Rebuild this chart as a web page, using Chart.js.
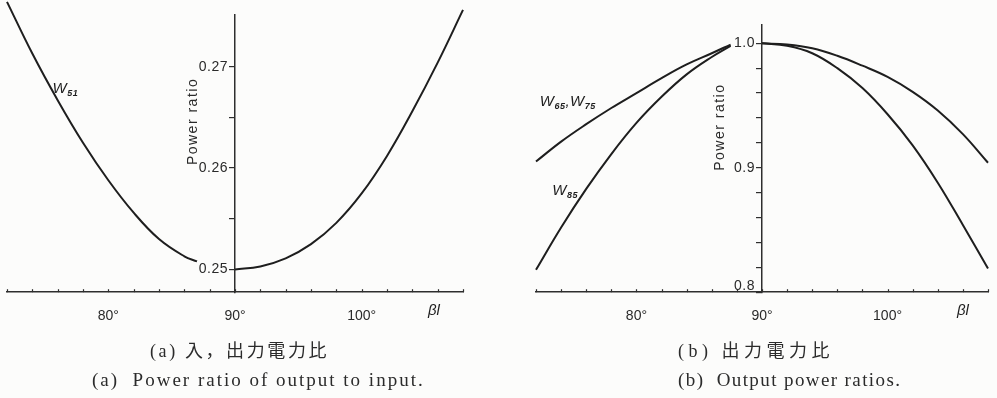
<!DOCTYPE html>
<html>
<head>
<meta charset="utf-8">
<script src="https://cdn.jsdelivr.net/npm/chart.js@4"></script>
<style>
  body { margin: 0; width: 997px; height: 398px; background: #fcfcfb; position: relative; overflow: hidden; }
  canvas { position: absolute; top: 0; }
  #chartA { left: -9px; }
  #chartB { left: 497px; }
  .cap { position: absolute; white-space: nowrap; color: #2b2b2b; font-family: "Liberation Serif", "Noto Sans CJK JP", serif; font-size: 19px; letter-spacing: 2px; }
</style>
</head>
<body>
<canvas id="chartA" width="506" height="341"></canvas>
<canvas id="chartB" width="507" height="341"></canvas>
<div class="cap" style="left:150px; top:336px; font-size:18px; letter-spacing:2.6px">(a)&nbsp;入，出力電力比</div>
<div class="cap" style="left:92px; top:369px">(a)&nbsp; Power ratio of output to input.</div>
<div class="cap" style="left:678px; top:336px; font-size:18px; letter-spacing:4.5px">(b)&nbsp;出力電力比</div>
<div class="cap" style="left:678px; top:369px; letter-spacing:1.4px">(b)&nbsp; Output power ratios.</div>
<script>
// βl in degrees, null marks the break left for the axis label
const betaA = [72, 74, 76, 78, 80, 82, 84, 86, 87, 88.5, 90, 92, 94, 96, 98, 100, 102, 104, 106, 108];
const w51 = [0.2764, 0.2713, 0.2667, 0.2625, 0.2588, 0.2556, 0.2530, 0.2513, 0.2508, null,
             0.2500, 0.2503, 0.2511, 0.2525, 0.2546, 0.2575, 0.2612, 0.2656, 0.2704, 0.2756];

const betaB = [72, 74, 76, 78, 80, 82, 84, 86, 87.5, 89, 90, 92, 94, 96, 98, 100, 102, 104, 106, 108];
const w65w75 = [0.905, 0.921, 0.935, 0.948, 0.960, 0.972, 0.983, 0.992, 0.999, null,
                1.000, 0.999, 0.996, 0.990, 0.982, 0.973, 0.961, 0.946, 0.927, 0.904];
const w85 = [0.818, 0.852, 0.883, 0.911, 0.936, 0.957, 0.975, 0.989, 0.998, null,
             1.000, 0.998, 0.992, 0.980, 0.964, 0.943, 0.918, 0.888, 0.854, 0.819];

const xLabels = {80: '80°', 90: '90°', 100: '100°'};
const yTicksA = [0.25, 0.255, 0.26, 0.265, 0.27];
const yLabelsA = ['0.25', '', '0.26', '', '0.27'];
const yTicksB = [0.8, 0.82, 0.84, 0.86, 0.88, 0.9, 0.92, 0.94, 0.96, 0.98, 1.0];
const yLabelsB = ['0.8', '', '', '', '', '0.9', '', '', '', '', '1.0'];

const INK = '#1e1e1e';
const AXIS = '#2e2e2e';
const SANS = '"Liberation Sans", Arial, sans-serif';

function points(xs, ys) {
  return xs.map((b, i) => ({x: b, y: ys[i]}));
}

function curve(xs, ys) {
  return {
    data: points(xs, ys),
    borderColor: INK,
    borderWidth: 2,
    pointRadius: 0,
    tension: 0.4,
    spanGaps: false,
    clip: false
  };
}

// W with subscript digits, e.g. "W65,W75"
function drawName(ctx, text, x, y) {
  let cx = x;
  for (const ch of text) {
    if (/[0-9]/.test(ch)) {
      ctx.font = 'italic bold 9px ' + SANS;
      ctx.fillText(ch, cx, y + 3);
    } else {
      ctx.font = 'italic 15px ' + SANS;
      ctx.fillText(ch, cx, y);
    }
    cx += ctx.measureText(ch).width + 0.5;
  }
}

function decor(opts) {
  return {
    id: 'decor',
    afterDraw(chart) {
      const {ctx, scales: {x, y}} = chart;
      const axisX = x.getPixelForValue(90);
      ctx.save();
      // short ticks standing up from the βl axis
      ctx.strokeStyle = AXIS;
      ctx.lineWidth = 1.2;
      x.ticks.forEach(t => {
        const px = Math.round(x.getPixelForValue(t.value)) + 0.5;
        ctx.beginPath();
        ctx.moveTo(px, x.top);
        ctx.lineTo(px, x.top - 3);
        ctx.stroke();
      });

      // ratio labels beside the vertical axis, kept clear of the βl axis
      ctx.fillStyle = '#2a2a2a';
      ctx.font = '14px ' + SANS;
      ctx.textAlign = 'right';
      ctx.textBaseline = 'middle';
      ctx.letterSpacing = '0.5px';
      opts.yTicks.forEach((v, i) => {
        if (!opts.yLabels[i]) return;
        const py = Math.min(y.getPixelForValue(v), x.top - 6);
        ctx.fillText(opts.yLabels[i], axisX - 7, py);
      });
      ctx.letterSpacing = '0px';

      ctx.fillStyle = INK;
      ctx.textBaseline = 'alphabetic';
      ctx.textAlign = 'left';
      opts.names.forEach(n => drawName(ctx, n.text, x.getPixelForValue(n.x), y.getPixelForValue(n.y)));

      ctx.textAlign = 'center';
      ctx.textBaseline = 'middle';
      ctx.font = 'italic 15px ' + SANS;
      ctx.fillText('βl', x.getPixelForValue(opts.betaAt), x.top + 19);

      // axis title, set to the left of the vertical axis
      ctx.translate(axisX - 42, y.getPixelForValue(opts.titleAt));
      ctx.rotate(-Math.PI / 2);
      ctx.letterSpacing = '1.5px';
      ctx.font = '14px ' + SANS;
      ctx.fillStyle = '#2a2a2a';
      ctx.fillText('Power ratio', 0, 0);
      ctx.restore();
    }
  };
}

function makeChart(id, datasets, yMin, yMax, padding, extra) {
  return new Chart(document.getElementById(id), {
    type: 'line',
    data: {datasets},
    options: {
      responsive: false,
      animation: false,
      layout: {padding},
      plugins: {legend: {display: false}, tooltip: {enabled: false}},
      scales: {
        x: {
          type: 'linear',
          min: 72,
          max: 108,
          grid: {display: false, drawTicks: false},
          border: {color: AXIS, width: 1.5},
          ticks: {
            stepSize: 2,
            autoSkip: false,
            maxRotation: 0,
            padding: 16,
            color: '#2a2a2a',
            font: {family: SANS, size: 14},
            callback: v => xLabels[v] || ''
          }
        },
        y: {
          type: 'linear',
          position: {x: 90},
          min: yMin,
          max: yMax,
          afterBuildTicks: s => { s.ticks = extra.yTicks.map(v => ({value: v})); },
          grid: {drawOnChartArea: false, tickLength: 5, color: AXIS, lineWidth: 1.2},
          border: {color: AXIS, width: 1.5},
          ticks: {display: false}
        }
      }
    },
    plugins: [decor(extra)]
  });
}

makeChart('chartA', [curve(betaA, w51)], 0.24776, 0.2751,
  {left: 0, right: 34, top: 15, bottom: 0},
  {yTicks: yTicksA, yLabels: yLabelsA, betaAt: 105.7, titleAt: 0.2646,
   names: [{text: 'W51', x: 75.6, y: 0.2674}]});

makeChart('chartB', [curve(betaB, w65w75), curve(betaB, w85)], 0.8, 1.0147,
  {left: 39, right: 0, top: 25, bottom: 0},
  {yTicks: yTicksB, yLabels: yLabelsB, betaAt: 106.0, titleAt: 0.9326,
   names: [
    {text: 'W65,W75', x: 72.3, y: 0.9495},
    {text: 'W85', x: 73.3, y: 0.878}
  ]});
</script>
</body>
</html>
